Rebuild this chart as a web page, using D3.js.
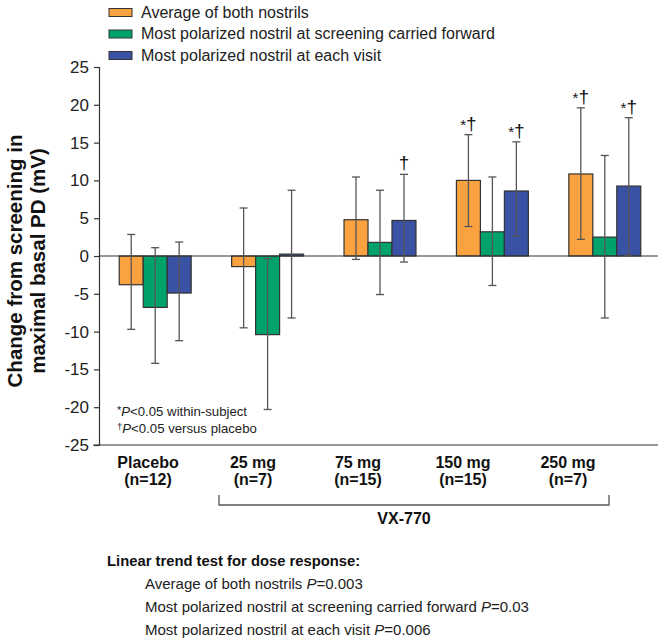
<!DOCTYPE html>
<html>
<head>
<meta charset="utf-8">
<script src="https://cdn.jsdelivr.net/npm/d3@7"></script>
<style>
  body { margin: 0; background: #fff; }
  svg { font-family: "Liberation Sans", Arial, sans-serif; }
</style>
</head>
<body>
<svg id="chart" width="664" height="643"></svg>
<script>
const groups = ["Placebo", "25 mg", "75 mg", "150 mg", "250 mg"];
const nLabels = ["(n=12)", "(n=7)", "(n=15)", "(n=15)", "(n=7)"];
const seriesNames = [
  "Average of both nostrils",
  "Most polarized nostril at screening carried forward",
  "Most polarized nostril at each visit"
];
const seriesColors = ["#F9A23F", "#00A26B", "#3A52A3"];

// means and error bar ends (mV)
const avgMean = [-3.8, -1.4, 4.8, 10.0, 10.85];
const avgLow = [-9.7, -9.5, -0.45, 3.9, 2.2];
const avgHigh = [2.85, 6.35, 10.45, 16.05, 19.6];
const scrMean = [-6.8, -10.4, 1.8, 3.2, 2.5];
const scrLow = [-14.2, -20.3, -5.1, -3.9, -8.2];
const scrHigh = [1.1, -0.35, 8.7, 10.45, 13.3];
const visMean = [-4.9, 0.25, 4.7, 8.6, 9.25];
const visLow = [-11.2, -8.2, -0.8, 2.65, 0.1];
const visHigh = [1.85, 8.7, 10.8, 15.1, 18.3];
const avgMarks = ["", "", "", "*†", "*†"];
const scrMarks = ["", "", "", "", ""];
const visMarks = ["", "", "†", "*†", "*†"];

const yTicks = [-25, -20, -15, -10, -5, 0, 5, 10, 15, 20, 25];
const pValues = ["0.003", "0.03", "0.006"];

const series = [
  { mean: avgMean, low: avgLow, high: avgHigh, marks: avgMarks },
  { mean: scrMean, low: scrLow, high: scrHigh, marks: scrMarks },
  { mean: visMean, low: visLow, high: visHigh, marks: visMarks }
];

const svg = d3.select("#chart");

const y = d3.scaleLinear().domain([-25, 25]).range([445, 67]);
const x = d3.scaleBand().domain(groups).range([99, 661]).paddingInner(0.36).paddingOuter(0.18);
const xs = d3.scaleBand().domain([0, 1, 2]).range([0, x.bandwidth()]);
// category labels sit a little left of the bar groups
const xLab = d3.scalePoint().domain(groups).range([148, 568]);

// y axis
const yAxis = svg.append("g")
  .attr("transform", "translate(99,0)")
  .call(d3.axisLeft(y).tickValues(yTicks).tickSize(5).tickPadding(5).tickFormat(d => String(d)));
yAxis.select(".domain").attr("stroke", "#333").attr("stroke-width", 1.2);
yAxis.selectAll(".tick line").attr("stroke", "#333").attr("stroke-width", 1.2);
yAxis.selectAll(".tick text").attr("font-size", 17).attr("fill", "#222")
  .attr("font-family", "Liberation Sans, Arial, sans-serif");

// bottom line
svg.append("line").attr("x1", 93).attr("x2", 658)
  .attr("y1", y(-25)).attr("y2", y(-25)).attr("stroke", "#333").attr("stroke-width", 1.2);

// bars
series.forEach((s, si) => {
  const g = svg.append("g");
  g.selectAll("rect").data(groups).join("rect")
    .attr("x", d => x(d) + xs(si))
    .attr("width", xs.bandwidth())
    .attr("y", (d, i) => Math.min(y(s.mean[i]), y(0)))
    .attr("height", (d, i) => Math.abs(y(s.mean[i]) - y(0)))
    .attr("fill", seriesColors[si])
    .attr("stroke", "#333").attr("stroke-width", 1.2);
});

// zero line
svg.append("line").attr("x1", 99).attr("x2", 658)
  .attr("y1", y(0)).attr("y2", y(0)).attr("stroke", "#333").attr("stroke-width", 1.2);

// error bars and significance marks
series.forEach((s, si) => {
  const g = svg.append("g").attr("stroke", "#555").attr("stroke-width", 1.3);
  groups.forEach((d, i) => {
    const cx = x(d) + xs(si) + xs.bandwidth() / 2;
    g.append("line").attr("x1", cx).attr("x2", cx)
      .attr("y1", y(s.low[i])).attr("y2", y(s.high[i]));
    [s.low[i], s.high[i]].forEach(v => {
      g.append("line").attr("x1", cx - 4).attr("x2", cx + 4)
        .attr("y1", y(v)).attr("y2", y(v));
    });
    if (s.marks[i]) {
      const t = svg.append("text").attr("x", cx).attr("y", y(s.high[i]) - 5)
        .attr("text-anchor", "middle").attr("fill", "#111");
      s.marks[i].split("").forEach(ch => {
        t.append("tspan").attr("font-size", ch === "*" ? 15 : 19).text(ch);
      });
    }
  });
});

// legend
const leg = svg.append("g");
seriesNames.forEach((name, i) => {
  const ly = 8.5 + i * 21.5;
  leg.append("rect").attr("x", 109).attr("y", ly).attr("width", 23).attr("height", 8)
    .attr("fill", seriesColors[i]).attr("stroke", "#333").attr("stroke-width", 1);
  leg.append("text").attr("x", 141).attr("y", ly + 9).attr("font-size", 16)
    .attr("fill", "#222").text(name);
});

// y axis title
const yt = svg.append("text").attr("transform", "translate(0,261) rotate(-90)")
  .attr("text-anchor", "middle").attr("font-size", 20.5).attr("font-weight", "bold").attr("fill", "#111");
yt.append("tspan").attr("x", 0).attr("y", 22).text("Change from screening in");
yt.append("tspan").attr("x", 0).attr("y", 45).text("maximal basal PD (mV)");

// footnotes
const fn = svg.append("g").attr("font-size", 13.2).attr("fill", "#222");
const f1 = fn.append("text").attr("x", 117).attr("y", 416);
f1.append("tspan").attr("font-size", 11).attr("dy", -2).text("*");
f1.append("tspan").attr("font-style", "italic").attr("dy", 2).text("P");
f1.append("tspan").text("<0.05 within-subject");
const f2 = fn.append("text").attr("x", 117).attr("y", 433);
f2.append("tspan").attr("font-size", 9.5).attr("dy", -3).text("†");
f2.append("tspan").attr("font-style", "italic").attr("dy", 3).text("P");
f2.append("tspan").text("<0.05 versus placebo");

// x labels
const xl = svg.append("g").attr("font-size", 16).attr("font-weight", "bold")
  .attr("fill", "#111").attr("text-anchor", "middle");
groups.forEach((d, i) => {
  xl.append("text").attr("x", xLab(d)).attr("y", 468).text(d);
  xl.append("text").attr("x", xLab(d)).attr("y", 485).text(nLabels[i]);
});

// VX-770 bracket
svg.append("path")
  .attr("d", `M219,495 V505 H609 V495`)
  .attr("fill", "none").attr("stroke", "#555").attr("stroke-width", 1.3);
svg.append("text").attr("x", 404).attr("y", 524).attr("text-anchor", "middle")
  .attr("font-size", 16).attr("font-weight", "bold").attr("fill", "#111").text("VX-770");

// linear trend text
svg.append("text").attr("x", 107).attr("y", 566).attr("font-size", 14.8)
  .attr("font-weight", "bold").attr("fill", "#111").text("Linear trend test for dose response:");
seriesNames.forEach((name, i) => {
  const t = svg.append("text").attr("x", 145).attr("y", 589 + i * 23)
    .attr("font-size", 15).attr("fill", "#222");
  t.append("tspan").text(name + " ");
  t.append("tspan").attr("font-style", "italic").text("P");
  t.append("tspan").text("=" + pValues[i]);
});
</script>
</body>
</html>
